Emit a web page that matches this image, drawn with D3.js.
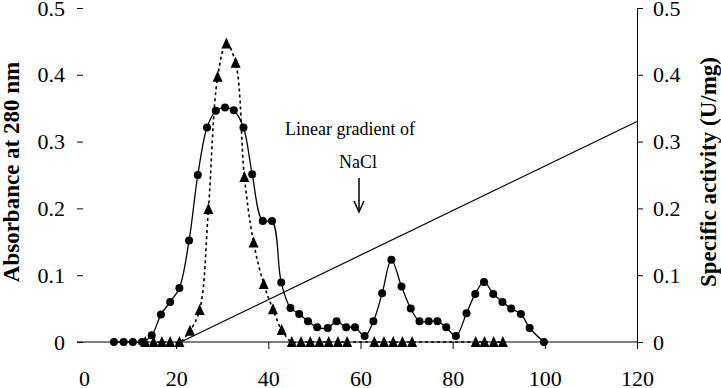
<!DOCTYPE html>
<html lang="en">
<head>
<meta charset="UTF-8">
<title>Elution profile</title>
<script src="https://cdn.jsdelivr.net/npm/d3@7"></script>
<style>
  body { margin: 0; background: #fff; }
  svg text { font-family: "Liberation Serif", "Times New Roman", serif; fill: #000; }
</style>
</head>
<body>
<script>
    // absorbance at 280 nm (circles, solid line)
    const absFraction = [6.5, 8.6, 10.6, 12.6, 14.7, 16.7, 18.7, 20.7, 22.8, 24.7, 26.7, 28.6, 30.6, 32.5,
        34.6, 36.5, 38.8, 40.8, 42.8, 44.8, 46.7, 48.6, 50.6, 52.9, 54.8, 56.9, 58.8, 60.9, 62.8, 64.7,
        66.7, 68.9, 70.9, 72.8, 74.8, 76.7, 78.6, 80.7, 83.0, 84.9, 86.8, 88.8, 90.8, 92.7, 94.8, 96.7, 99.8];
    const absorbance = [0, 0, 0, 0, 0.01, 0.041, 0.06, 0.081, 0.152, 0.25, 0.321, 0.346, 0.351, 0.347,
        0.321, 0.251, 0.181, 0.181, 0.089, 0.051, 0.042, 0.031, 0.022, 0.021, 0.031, 0.022, 0.022, 0.009, 0.031, 0.073,
        0.123, 0.083, 0.05, 0.031, 0.031, 0.031, 0.022, 0.009, 0.043, 0.072, 0.09, 0.072, 0.06, 0.05, 0.042, 0.021, 0];

    // specific activity (triangles, dotted line)
    const actFraction = [13.3, 15.1, 16.9, 18.7, 20.7, 23.0, 25.1, 27.0, 29.0, 30.9, 32.9, 34.8, 36.8, 39.0,
        41.0, 42.9, 45.1, 47.1, 49.1, 51.1, 53.1, 55.1, 57.1, 63.0, 65.1, 67.1, 69.1, 71.2, 85.0, 86.9, 88.9, 90.9];
    const activity = [0, 0, 0, 0, 0, 0.017, 0.048, 0.199, 0.397, 0.447, 0.418, 0.247, 0.149, 0.087,
        0.049, 0.018, 0, 0, 0, 0, 0, 0, 0, 0, 0, 0, 0, 0, 0, 0, 0, 0];

    // NaCl gradient
    const gradientX = [21, 120];
    const gradientY = [0, 0.33];

    const xTicks = [0, 20, 40, 60, 80, 100, 120];
    const yTicks = [0, 0.1, 0.2, 0.3, 0.4, 0.5];
    const yLabels = ["0", "0.1", "0.2", "0.3", "0.4", "0.5"];

    const W = 721, H = 388;
    const svg = d3.select("body").append("svg").attr("width", W).attr("height", H);

    const x = d3.scaleLinear().domain([0, 120]).range([84, 637]);
    const y = d3.scaleLinear().domain([0, 0.5]).range([342, 8]);

    // baseline
    svg.append("line")
        .attr("x1", 77).attr("x2", x(120))
        .attr("y1", y(0)).attr("y2", y(0))
        .attr("stroke", "#000").attr("stroke-width", 1);

    // gradient line
    svg.append("line")
        .attr("x1", x(gradientX[0])).attr("y1", y(gradientY[0]))
        .attr("x2", x(gradientX[1])).attr("y2", y(gradientY[1]))
        .attr("stroke", "#000").attr("stroke-width", 1.2);

    const absData = absFraction.map((f, i) => ({x: f, y: absorbance[i]}));
    const actData = actFraction.map((f, i) => ({x: f, y: activity[i]}));

    const line = d3.line().x(d => x(d.x)).y(d => y(d.y)).curve(d3.curveCatmullRom.alpha(0.5));

    svg.append("path").datum(actData)
        .attr("d", line)
        .attr("fill", "none").attr("stroke", "#000")
        .attr("stroke-width", 1.6).attr("stroke-dasharray", "3,3");

    svg.append("path").datum(absData)
        .attr("d", line)
        .attr("fill", "none").attr("stroke", "#000").attr("stroke-width", 1.3);

    svg.selectAll("circle.abs").data(absData).join("circle")
        .attr("class", "abs")
        .attr("cx", d => x(d.x)).attr("cy", d => y(d.y))
        .attr("r", 4).attr("fill", "#000");

    svg.selectAll("path.tri").data(actData).join("path")
        .attr("class", "tri")
        .attr("d", "M0,-6L5,5L-5,5Z")
        .attr("transform", d => `translate(${x(d.x)},${y(d.y)})`)
        .attr("fill", "#000");

    // left axis (no axis line, ticks only)
    const left = svg.append("g").attr("transform", "translate(83,0)")
        .call(d3.axisLeft(y).tickValues(yTicks).tickFormat((d, i) => yLabels[i])
            .tickSize(6).tickPadding(12));
    left.select(".domain").remove();

    // right axis
    const right = svg.append("g").attr("transform", `translate(${x(120)},0)`)
        .call(d3.axisRight(y).tickValues(yTicks).tickFormat((d, i) => yLabels[i])
            .tickSize(6).tickSizeOuter(0).tickPadding(10));

    // bottom axis
    const bottom = svg.append("g").attr("transform", `translate(0,${y(0)})`)
        .call(d3.axisBottom(x).tickValues(xTicks).tickSize(7).tickPadding(21));
    bottom.select(".domain").remove();
    bottom.selectAll(".tick").filter(d => d === 0).select("line").remove();

    svg.selectAll(".tick text").attr("font-size", 22)
        .attr("font-family", "'Liberation Serif', 'Times New Roman', serif");
    svg.selectAll(".tick line, .domain").attr("stroke", "#000");

    // axis titles
    svg.append("text")
        .attr("transform", "translate(11,172) rotate(-90)")
        .attr("text-anchor", "middle").attr("dominant-baseline", "central")
        .attr("font-size", 23).attr("font-weight", "bold")
        .text("Absorbance at 280 nm");

    svg.append("text")
        .attr("transform", "translate(708,172) rotate(-90)")
        .attr("text-anchor", "middle").attr("dominant-baseline", "central")
        .attr("font-size", 23).attr("font-weight", "bold")
        .text("Specific activity (U/mg)");

    // annotation
    svg.append("text").attr("x", 350).attr("y", 135)
        .attr("text-anchor", "middle").attr("font-size", 18)
        .text("Linear gradient of");
    svg.append("text").attr("x", 358).attr("y", 168)
        .attr("text-anchor", "middle").attr("font-size", 18)
        .text("NaCl");

    svg.append("line")
        .attr("x1", 359).attr("x2", 359).attr("y1", 178).attr("y2", 211)
        .attr("stroke", "#000").attr("stroke-width", 1.5);
    svg.append("path")
        .attr("d", "M354,201L359,212L364,201")
        .attr("fill", "none").attr("stroke", "#000").attr("stroke-width", 1.5);
</script>
</body>
</html>
